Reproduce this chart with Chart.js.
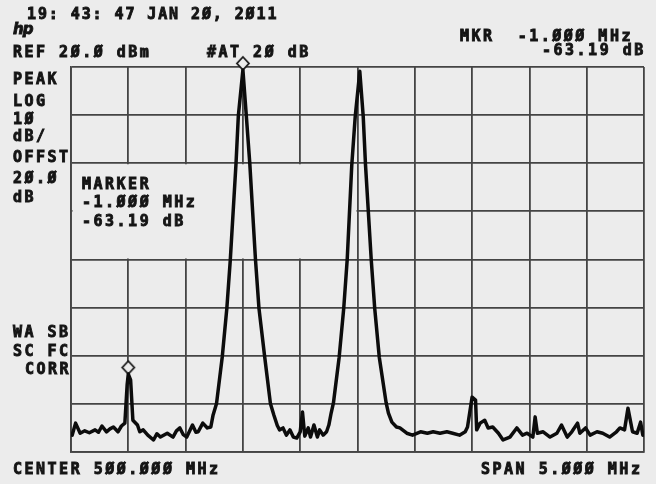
<!DOCTYPE html>
<html>
<head>
<meta charset="utf-8">
<script src="https://cdn.jsdelivr.net/npm/chart.js@4.4.1/dist/chart.umd.min.js"></script>
<style>
  body { margin: 0; background: #ececec; }
  #wrap { position: relative; width: 656px; height: 484px; background: #ececec; overflow: hidden; }
  #grafico { position: absolute; left: 0; top: 0; }
  .t {
    position: absolute;
    font-family: "DejaVu Sans Mono", "Liberation Mono", monospace;
    font-weight: bold;
    font-size: 15px;
    line-height: 15px;
    letter-spacing: 2.5px;
    color: #151515;
    -webkit-text-stroke: 0.9px #151515;
    white-space: pre;
  }
  .hp { font-family: "DejaVu Sans", sans-serif; font-style: italic; font-size: 15px; letter-spacing: -1px; }
</style>
</head>
<body>
<div id="wrap">
  <canvas id="grafico" width="656" height="484"></canvas>
</div>
<script>
// trace: offset from center (MHz) and level (dBm)
const freqs = [
  -2.49, -2.46, -2.42, -2.38, -2.34, -2.29, -2.26, -2.23, -2.19, -2.16,
  -2.13, -2.09, -2.06, -2.03, -2.01, -2.00, -1.98, -1.96, -1.92, -1.90,
  -1.87, -1.83, -1.78, -1.75, -1.72, -1.66, -1.61, -1.58, -1.55, -1.52,
  -1.49, -1.44, -1.41, -1.39, -1.35, -1.31, -1.28, -1.26, -1.23, -1.18,
  -1.14, -1.11, -1.06, -1.04, -1.00, -0.97, -0.94, -0.89, -0.86, -0.81,
  -0.76, -0.73, -0.70, -0.68, -0.65, -0.62, -0.59, -0.56, -0.53, -0.50,
  -0.48, -0.46, -0.43, -0.41, -0.38, -0.35, -0.33, -0.30, -0.27, -0.25,
  -0.23, -0.21, -0.16, -0.12, -0.09, -0.05, -0.02, 0.02, 0.05, 0.07,
  0.12, 0.15, 0.19, 0.25, 0.27, 0.30, 0.34, 0.37, 0.43, 0.48,
  0.55, 0.61, 0.66, 0.72, 0.78, 0.83, 0.89, 0.94, 0.96, 1.00,
  1.03, 1.04, 1.07, 1.11, 1.14, 1.18, 1.23, 1.27, 1.33, 1.39,
  1.44, 1.48, 1.53, 1.55, 1.57, 1.62, 1.68, 1.74, 1.78, 1.83,
  1.87, 1.92, 1.94, 1.99, 2.03, 2.09, 2.14, 2.20, 2.26, 2.29,
  2.33, 2.36, 2.40, 2.44, 2.47, 2.49
];
const levels = [
  -56.5, -54.0, -56.1, -55.6, -56.0, -55.4, -55.9, -54.6, -55.8, -55.2,
  -54.8, -55.8, -54.6, -54.0, -46.0, -43.8, -45.0, -53.4, -54.4, -55.8,
  -55.4, -56.5, -57.5, -56.2, -56.9, -56.1, -56.9, -55.6, -55.0, -56.4,
  -56.9, -54.4, -55.9, -55.8, -54.0, -55.0, -54.8, -52.3, -49.9, -40.2,
  -30.1, -20.1, 0.0, 9.8, 19.4, 9.8, 0.0, -20.1, -30.1, -40.2,
  -49.9, -52.3, -54.5, -55.4, -55.0, -56.5, -55.4, -56.9, -57.1, -55.8,
  -51.7, -56.7, -55.0, -56.9, -54.4, -56.9, -55.4, -56.5, -55.8, -54.4,
  -51.9, -49.8, -40.3, -30.1, -20.1, -0.4, 9.7, 19.1, 9.7, -0.4,
  -20.1, -30.1, -40.3, -49.8, -51.9, -53.8, -54.8, -55.0, -56.1, -56.5,
  -55.8, -56.1, -55.8, -56.1, -55.8, -56.1, -56.5, -55.8, -54.8, -48.6,
  -49.2, -55.4, -54.0, -53.4, -55.0, -54.8, -56.1, -57.5, -56.9, -55.0,
  -56.5, -56.1, -56.9, -52.7, -56.1, -55.8, -56.9, -56.1, -54.4, -56.9,
  -55.8, -54.0, -56.1, -55.0, -56.5, -55.8, -56.1, -56.9, -55.8, -55.0,
  -55.4, -50.9, -55.8, -56.1, -53.8, -56.5
];

// marker diamonds (reference marker at the carrier, delta marker at -1 MHz)
const markerFreqs = [-1.00, -2.00];
const markerLevels = [19.4, -43.8];

// axis settings: 10 dB/div from REF 20 dBm, 0.5 MHz/div over 5 MHz span
const yTop = 20;
const yBottom = -60;
const dbPerDiv = 10;
const xLeft = -2.5;
const xRight = 2.5;
const mhzPerDiv = 0.5;

// screen annotations: [text, left, baseline, extra class]
const labels = [
  ["19: 43: 47 JAN 2Ø, 2Ø11", 27, 20, "ts"],
  ["REF 2Ø.Ø dBm", 13, 58, ""],
  ["#AT 2Ø dB", 207, 58, ""],
  ["MKR  -1.ØØØ MHz", 460, 42, ""],
  ["-63.19 dB", 542, 56, ""],
  ["PEAK", 13, 85, ""],
  ["LOG", 13, 107, ""],
  ["1Ø", 13, 125, ""],
  ["dB/", 13, 142, ""],
  ["OFFST", 13, 163, ""],
  ["2Ø.Ø", 13, 184, ""],
  ["dB", 13, 203, ""],
  ["MARKER", 82, 190, ""],
  ["-1.ØØØ MHz", 82, 208, ""],
  ["-63.19 dB", 82, 227, ""],
  ["WA SB", 13, 338, ""],
  ["SC FC", 13, 357, ""],
  ["CORR", 25, 375, ""],
  ["CENTER 5ØØ.ØØØ MHz", 13, 475, ""],
  ["SPAN 5.ØØØ MHz", 481, 475, ""]
];

const paper = "#ececec";
const gridColor = "#444444";
const ink = "#0c0c0c";

const wrap = document.getElementById("wrap");
labels.forEach(([txt, x, base, cls]) => {
  const d = document.createElement("div");
  d.className = "t";
  d.textContent = txt;
  d.style.left = x + "px";
  d.style.top = (base - 12.7) + "px";
  if (cls === "ts") d.style.letterSpacing = "1.9px";
  wrap.appendChild(d);
});
const logo = document.createElement("div");
logo.className = "t hp";
logo.textContent = "hp";
logo.style.left = "13px";
logo.style.top = "22px";
wrap.appendChild(logo);

// marker symbol: diamond sitting with its lower tip on the trace point
const diamond = document.createElement("canvas");
diamond.width = 16;
diamond.height = 30;
(function () {
  const c = diamond.getContext("2d");
  c.fillStyle = paper;
  c.strokeStyle = "#1a1a1a";
  c.lineWidth = 1.8;
  c.beginPath();
  c.moveTo(8, 2);
  c.lineTo(14, 8.5);
  c.lineTo(8, 15);
  c.lineTo(2, 8.5);
  c.closePath();
  c.fill();
  c.stroke();
})();

// the analyzer leaves the graticule blank behind the MARKER readout
const blankBox = {
  id: "blankBox",
  beforeDatasetsDraw(chart) {
    const x = chart.scales.x, y = chart.scales.y;
    const c = chart.ctx;
    const x0 = x.getPixelForValue(xLeft) + 1.5;
    const x1 = x.getPixelForValue(0) - 1;
    const y0 = y.getPixelForValue(0) + 1;
    const y1 = y.getPixelForValue(-20) - 1;
    c.save();
    c.fillStyle = paper;
    c.fillRect(x0, y0, x1 - x0, y1 - y0);
    c.restore();
  }
};

const ctx = document.getElementById("grafico").getContext("2d");
new Chart(ctx, {
  type: "line",
  data: {
    datasets: [
      {
        data: freqs.map((f, i) => ({ x: f, y: levels[i] })),
        borderColor: ink,
        borderWidth: 3.5,
        pointRadius: 0,
        tension: 0,
        borderJoinStyle: "round",
        borderCapStyle: "round"
      },
      {
        type: "scatter",
        data: markerFreqs.map((f, i) => ({ x: f, y: markerLevels[i] })),
        pointStyle: diamond,
        pointRadius: 8,
        clip: false
      }
    ]
  },
  options: {
    responsive: false,
    animation: false,
    devicePixelRatio: 1,
    layout: { padding: { left: 71, right: 12, top: 67, bottom: 32 } },
    plugins: { legend: { display: false }, tooltip: { enabled: false } },
    scales: {
      x: {
        type: "linear",
        min: xLeft, max: xRight,
        ticks: { display: false, stepSize: mhzPerDiv },
        grid: { color: gridColor, lineWidth: 1.8, drawTicks: false },
        border: { display: true, color: gridColor, width: 1.8 }
      },
      y: {
        min: yBottom, max: yTop,
        ticks: { display: false, stepSize: dbPerDiv },
        grid: { color: gridColor, lineWidth: 1.8, drawTicks: false },
        border: { display: true, color: gridColor, width: 1.8 }
      }
    }
  },
  plugins: [blankBox]
});
</script>
</body>
</html>
